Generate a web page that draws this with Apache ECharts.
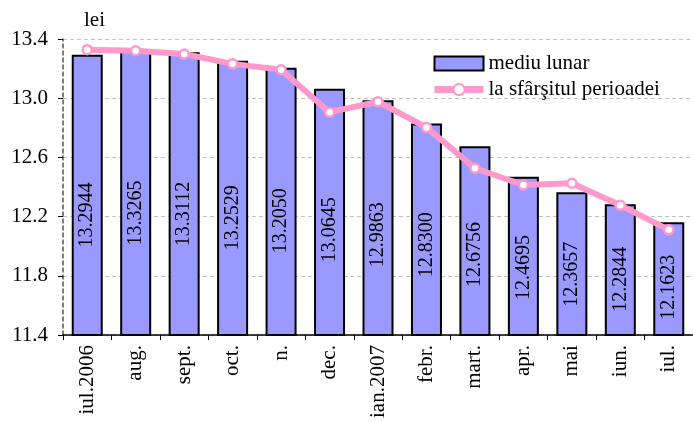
<!DOCTYPE html>
<html>
<head>
<meta charset="utf-8">
<script src="https://cdn.jsdelivr.net/npm/echarts@6/dist/echarts.min.js"></script>
<style>
	html, body { margin: 0; padding: 0; background: #fff; }
	#chart { width: 693px; height: 421px; }
</style>
</head>
<body>
<div id="chart"></div>
<script>
// months, Jul 2006 - Jul 2007
const months = ['iul.2006', 'aug.', 'sept.', 'oct.', 'n.', 'dec.', 'ian.2007', 'febr.', 'mart.', 'apr.', 'mai', 'iun.', 'iul.']

// monthly average (bars)
const monthlyAvg = [13.2944, 13.3265, 13.3112, 13.2529, 13.205, 13.0645, 12.9863, 12.83, 12.6756, 12.4695, 12.3657, 12.2844, 12.1623]

// end of period (line)
const endOfPeriod = [13.328, 13.321, 13.299, 13.232, 13.193, 12.906, 12.976, 12.803, 12.527, 12.414, 12.426, 12.277, 12.111]

const yTicks = [11.4, 11.8, 12.2, 12.6, 13.0, 13.4]

const serif = 'Liberation Serif'
const pink = '#FF99CC'

const chart = echarts.init(document.getElementById('chart'))

const option = {
	animation: false,
	textStyle: { fontFamily: serif },
	grid: { left: 63, right: -4, top: 39, bottom: 85 },
	legend: {
		orient: 'vertical',
		left: 426,
		top: 48,
		itemWidth: 49,
		itemHeight: 14,
		itemGap: 5,
		textStyle: { fontFamily: serif, fontSize: 21, color: '#000' },
		data: [
			{ name: 'mediu lunar', icon: 'rect' },
			{ name: 'la sfârşitul perioadei', lineStyle: { width: 7 } },
		],
	},
	xAxis: {
		type: 'category',
		data: months,
		axisLine: { lineStyle: { color: '#000', width: 1.5 } },
		axisTick: { show: true, interval: 0, length: 5, lineStyle: { color: '#000' } },
		axisLabel: {
			interval: 0,
			rotate: 90,
			margin: 10,
			fontFamily: serif,
			fontSize: 21,
			color: '#000',
		},
	},
	yAxis: {
		type: 'value',
		min: yTicks[0],
		max: yTicks[yTicks.length - 1],
		interval: 0.4,
		name: 'lei',
		nameLocation: 'end',
		nameGap: 8,
		nameTextStyle: { fontFamily: serif, fontSize: 21, color: '#000', align: 'left', padding: [0, 0, 0, 21] },
		axisLine: { show: true, lineStyle: { color: '#555', width: 1.5, type: [4, 3] } },
		axisTick: { show: true, length: 5, lineStyle: { color: '#000' } },
		axisLabel: {
			margin: 15,
			fontFamily: serif,
			fontSize: 21,
			color: '#000',
			formatter: (v) => v.toFixed(1),
		},
		splitLine: { show: true, lineStyle: { color: '#c0c0c0', width: 1, type: [4, 3] } },
	},
	series: [
		{
			name: 'mediu lunar',
			type: 'bar',
			data: monthlyAvg,
			barWidth: 31,
			itemStyle: { color: '#9999FF', borderColor: '#000', borderWidth: 2 },
			label: {
				show: true,
				position: ['50%', '57%'],
				align: 'center',
				verticalAlign: 'middle',
				rotate: 90,
				fontFamily: serif,
				fontSize: 20,
				color: '#000',
				formatter: (p) => p.value.toFixed(4),
			},
			z: 2,
		},
		{
			name: 'la sfârşitul perioadei',
			type: 'line',
			data: endOfPeriod,
			symbol: 'circle',
			symbolSize: 9,
			lineStyle: { color: pink, width: 6 },
			itemStyle: { color: '#fff', borderColor: pink, borderWidth: 2.5 },
			z: 3,
		},
	],
}

chart.setOption(option)
</script>
</body>
</html>
